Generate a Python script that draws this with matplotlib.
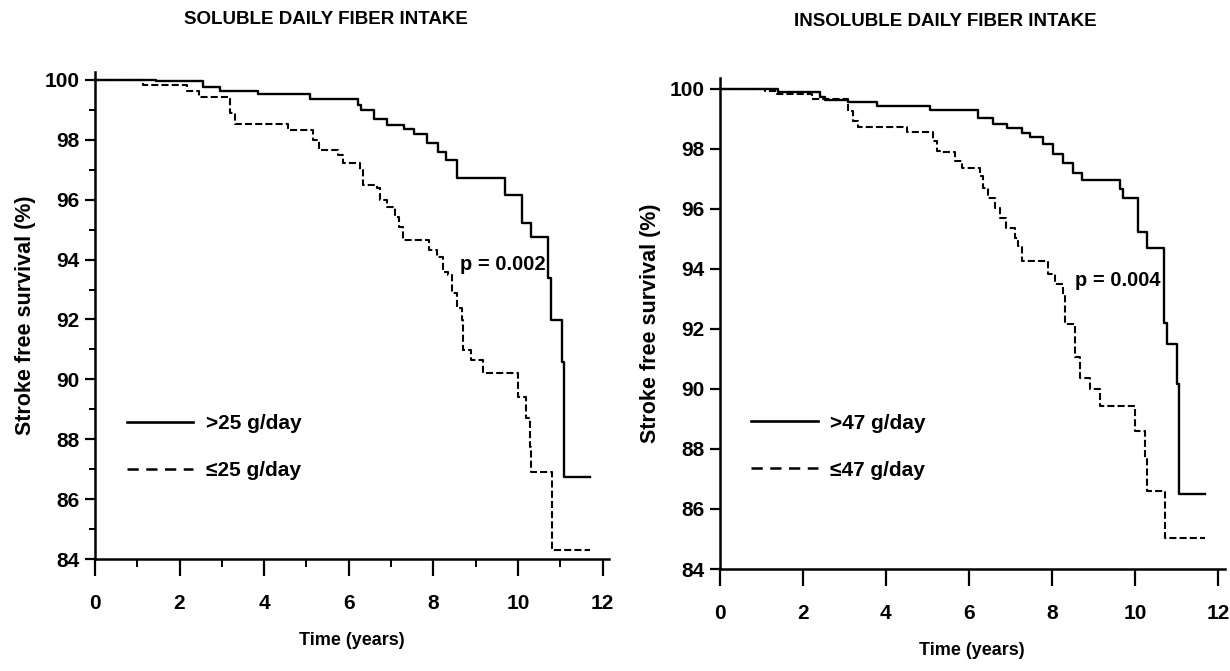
import matplotlib
matplotlib.use("Agg")
import matplotlib.pyplot as plt
from matplotlib.lines import Line2D
from matplotlib.ticker import MultipleLocator

# Kaplan-Meier curves (time in years, survival in %)
sol_hi_t = [0, 1.45, 2.55, 2.95, 3.85, 5.08, 6.22, 6.3, 6.6, 6.9, 7.3, 7.55, 7.85,
            8.1, 8.3, 8.55, 9.7, 10.1, 10.3, 10.7, 10.78, 11.04, 11.09, 11.7]
sol_hi_s = [100, 99.95, 99.75, 99.62, 99.52, 99.38, 99.15, 99.0, 98.68, 98.5, 98.36,
            98.2, 97.9, 97.58, 97.33, 96.73, 96.16, 95.22, 94.75, 93.4, 91.98, 90.58,
            86.74, 86.74]

sol_lo_t = [0, 1.13, 2.17, 2.45, 3.19, 3.3, 4.57, 5.16, 5.3, 5.75, 5.87, 6.26, 6.33,
            6.67, 6.74, 6.9, 7.09, 7.2, 7.28, 7.9, 8.09, 8.23, 8.35, 8.43, 8.56, 8.67,
            8.71, 8.9, 9.18, 10.0, 10.2, 10.28, 10.32, 10.8, 11.7]
sol_lo_s = [100, 99.83, 99.62, 99.44, 98.9, 98.53, 98.33, 98.0, 97.66, 97.5, 97.22,
            97.0, 96.5, 96.4, 96.0, 95.76, 95.42, 95.09, 94.66, 94.32, 94.1, 93.6, 93.5,
            92.9, 92.4, 91.98, 90.98, 90.65, 90.21, 89.41, 88.71, 87.74, 86.91, 84.3,
            84.3]

ins_hi_t = [0, 1.4, 2.42, 2.53, 3.09, 3.78, 5.05, 6.22, 6.58, 6.91, 7.27, 7.46, 7.78,
            8.02, 8.26, 8.5, 8.71, 9.63, 9.7, 10.07, 10.27, 10.69, 10.75, 11.0, 11.05,
            11.67]
ins_hi_s = [100, 99.89, 99.72, 99.63, 99.55, 99.44, 99.3, 99.04, 98.84, 98.71, 98.54,
            98.41, 98.18, 97.84, 97.54, 97.21, 96.98, 96.68, 96.38, 95.23, 94.69, 92.2,
            91.5, 90.18, 86.51, 86.51]

ins_lo_t = [0, 1.09, 1.38, 2.22, 3.09, 3.21, 3.33, 4.5, 5.13, 5.22, 5.34, 5.66, 5.83,
            6.26, 6.34, 6.46, 6.62, 6.74, 6.9, 7.1, 7.18, 7.27, 7.9, 8.06, 8.26, 8.32,
            8.55, 8.67, 8.91, 9.15, 9.99, 10.23, 10.27, 10.72, 11.67]
ins_lo_s = [100, 99.92, 99.83, 99.67, 99.28, 98.94, 98.72, 98.55, 98.28, 97.94, 97.89,
            97.61, 97.38, 97.11, 96.71, 96.38, 96.04, 95.71, 95.38, 95.04, 94.78, 94.28,
            93.84, 93.51, 93.1, 92.18, 91.05, 90.38, 90.0, 89.44, 88.61, 87.68, 86.61,
            85.04, 85.04]

titles = ["SOLUBLE DAILY FIBER INTAKE", "INSOLUBLE DAILY FIBER INTAKE"]
labels_hi = [">25 g/day", ">47 g/day"]
labels_lo = ["\u226425 g/day", "\u226447 g/day"]
p_values = ["p = 0.002", "p = 0.004"]

font = ["Liberation Sans", "DejaVu Sans"]

fig = plt.figure(figsize=(12.3, 6.71), dpi=100)
axL = fig.add_axes([0.0772, 0.1669, 0.4178, 0.726])
axR = fig.add_axes([0.585, 0.152, 0.4107, 0.732])

dash_plot = (0, (3.4, 1.5))
dash_leg = (0, (4.5, 3.0))

panels = [
    (axL, sol_hi_t, sol_hi_s, sol_lo_t, sol_lo_s, 100.27, True, (8.63, 93.82), 0.23),
    (axR, ins_hi_t, ins_hi_s, ins_lo_t, ins_lo_s, 100.37, False, (8.55, 93.61), 0.249),
]

for i, (ax, th, sh, tl, sl, ytop, minors, ppos, legy) in enumerate(panels):
    ax.step(th, sh, where="post", color="black", lw=1.7)
    ax.step(tl, sl, where="post", color="black", lw=1.5, linestyle=dash_plot)

    ax.set_xlim(0, 12.15)
    ax.set_ylim(84, ytop)
    ax.set_xticks(range(0, 13, 2))
    ax.set_yticks(range(84, 101, 2))
    if minors:
        ax.xaxis.set_minor_locator(MultipleLocator(1))
        ax.yaxis.set_minor_locator(MultipleLocator(1))

    for s in ["top", "right"]:
        ax.spines[s].set_visible(False)
    for s in ["left", "bottom"]:
        ax.spines[s].set_linewidth(1.8)
    ax.tick_params(axis="x", which="major", length=12, width=1.6, pad=13)
    ax.tick_params(axis="x", which="minor", length=6, width=1.4)
    ax.tick_params(axis="y", which="major", length=7, width=1.6, pad=4)
    ax.tick_params(axis="y", which="minor", length=4, width=1.4)
    for lab in ax.get_xticklabels() + ax.get_yticklabels():
        lab.set_family(font)
        lab.set_fontweight("bold")
        lab.set_fontsize(15)

    ax.set_ylabel("Stroke free survival (%)", family=font, fontweight="bold",
                  fontsize=15.5, labelpad=6)
    ax.set_xlabel("Time (years)", family=font, fontweight="bold", fontsize=13,
                  labelpad=14)

    ax.text(ppos[0], ppos[1], p_values[i], family=font, fontweight="bold",
            fontsize=14.5, va="center", ha="left")

    handles = [Line2D([], [], color="black", lw=1.9),
               Line2D([], [], color="black", lw=1.8, linestyle=dash_leg)]
    ax.legend(handles, [labels_hi[i], labels_lo[i]], loc="center left",
              bbox_to_anchor=(0.062, legy), frameon=False, handlelength=3.2,
              handletextpad=0.6, labelspacing=1.35, borderpad=0, borderaxespad=0,
              prop={"family": font, "weight": "bold", "size": 15})

fig.text(326 / 1230, 1 - 20 / 671, titles[0], family=font, fontweight="bold",
         fontsize=13.5, ha="center", va="center")
fig.text(945 / 1230, 1 - 22 / 671, titles[1], family=font, fontweight="bold",
         fontsize=13.5, ha="center", va="center")

fig.savefig("out.png", dpi=100, facecolor="white")
